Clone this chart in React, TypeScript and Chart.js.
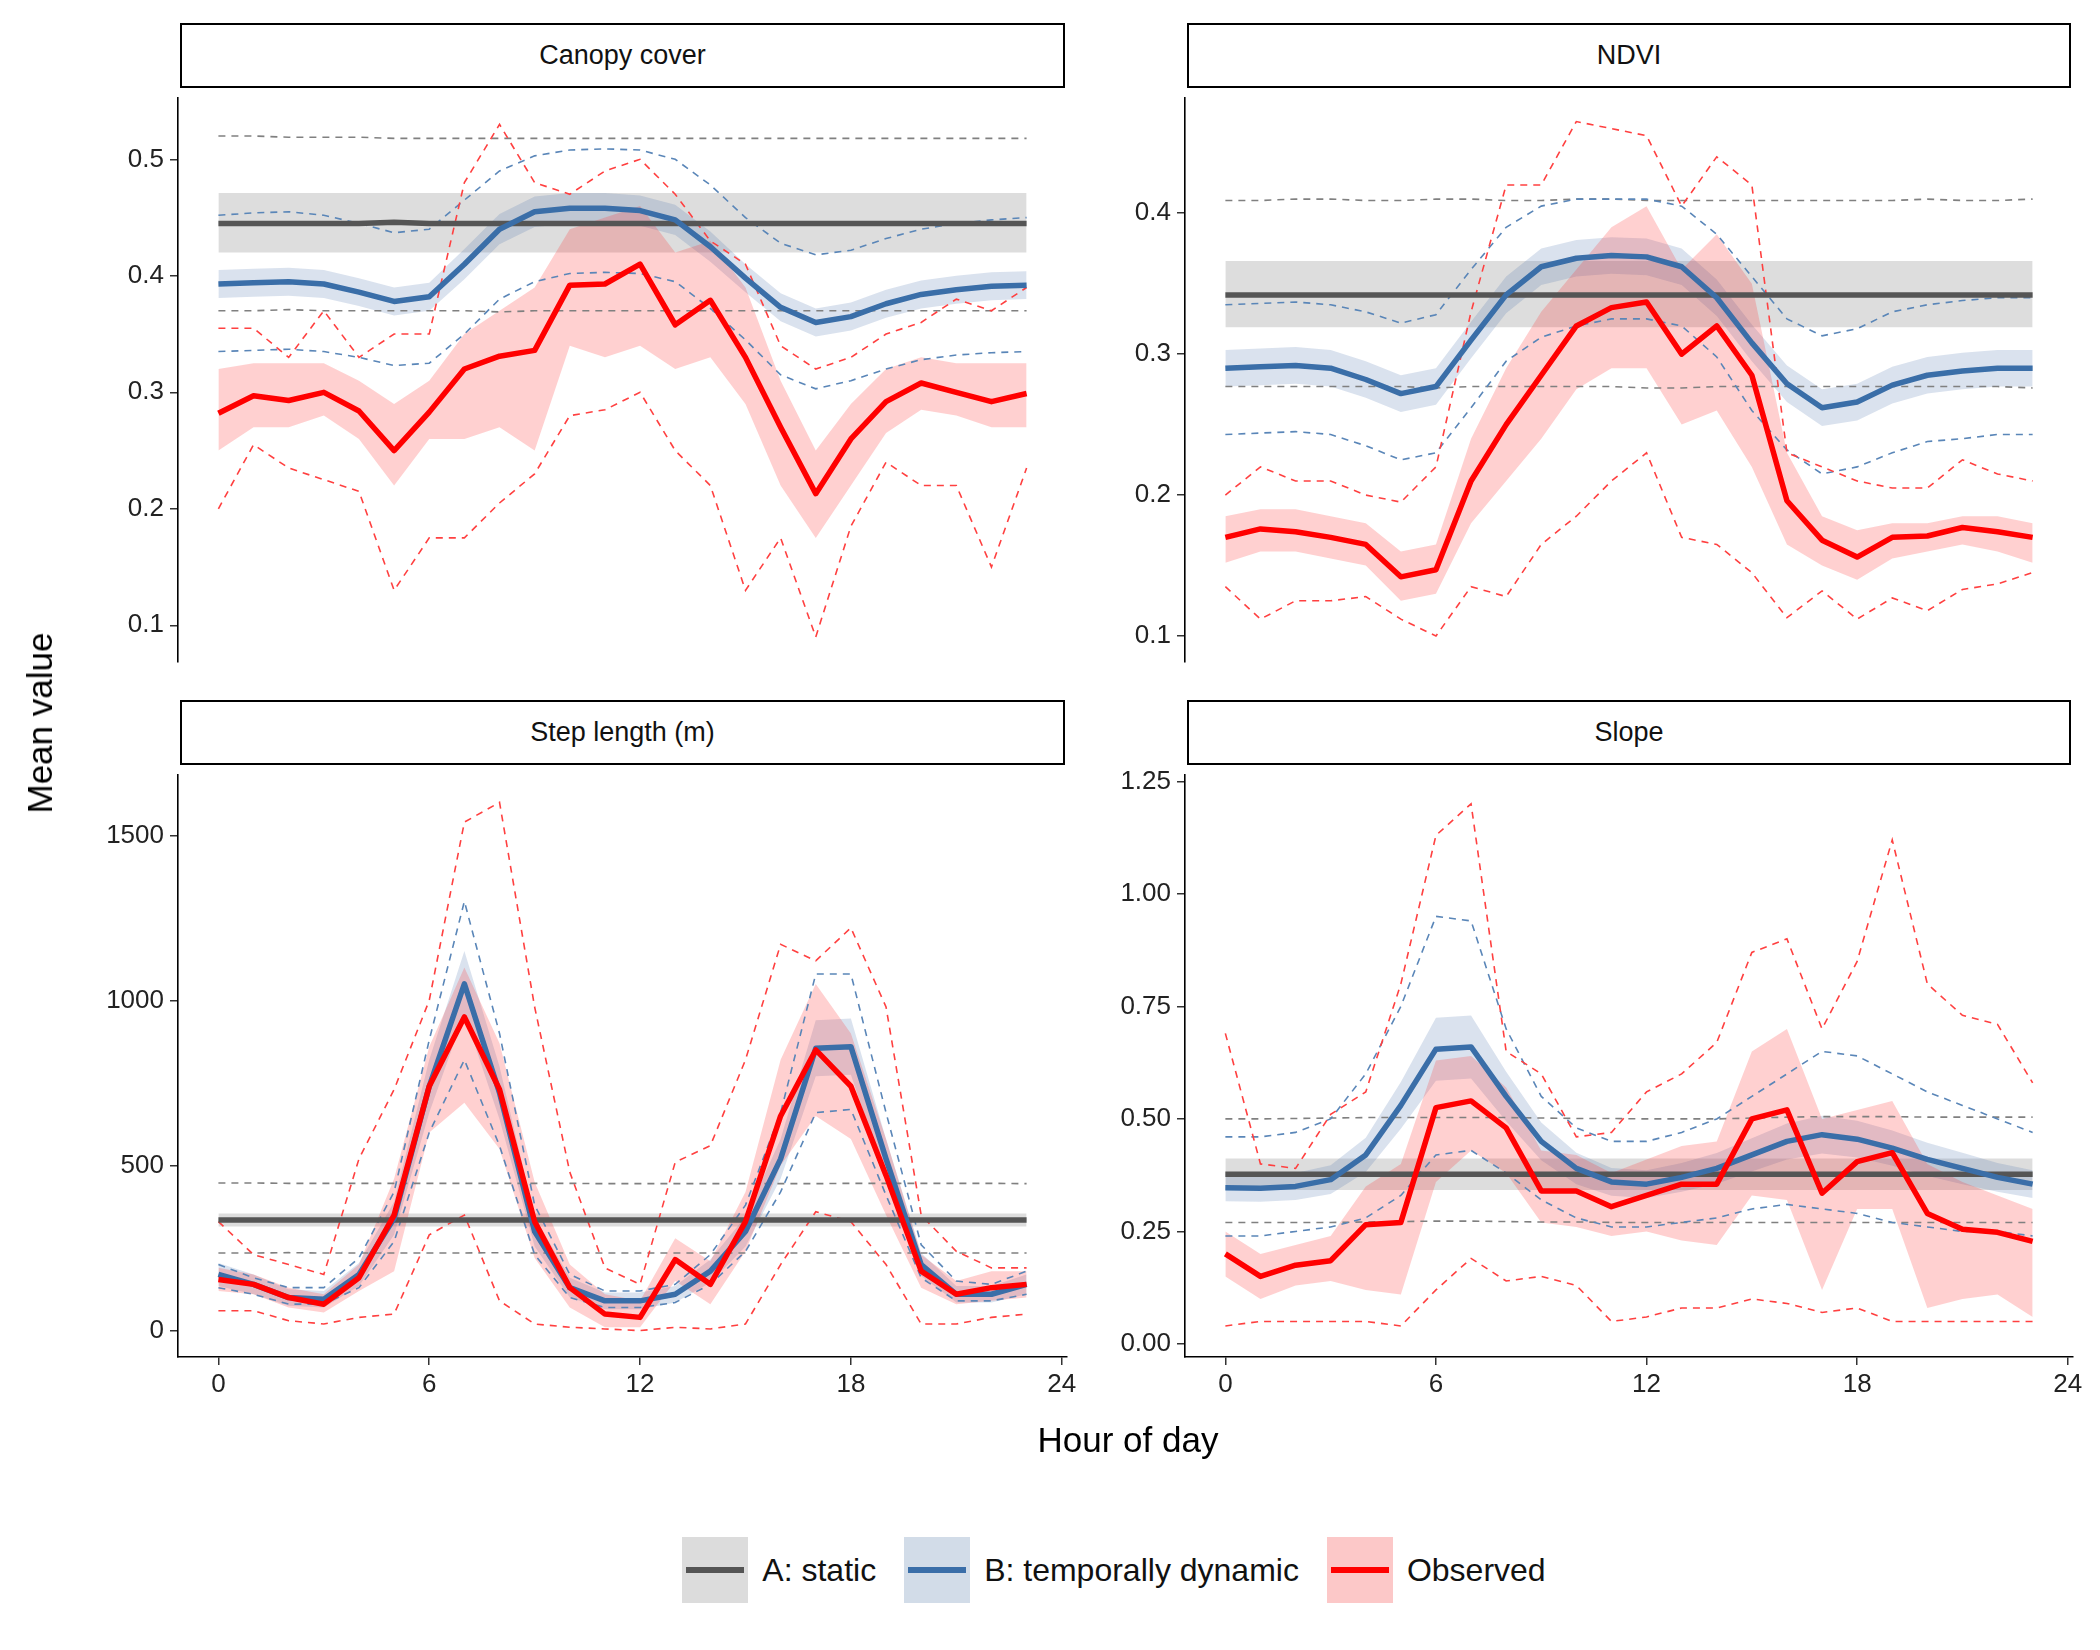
import React, { useEffect, useRef } from "react";
import { Chart, registerables } from "chart.js";
Chart.register(...registerables);

const hours = [0,1,2,3,4,5,6,7,8,9,10,11,12,13,14,15,16,17,18,19,20,21,22,23];
const xTicks = [0, 6, 12, 18, 24];

// Canopy cover
const canA = [0.445,0.445,0.445,0.445,0.445,0.446,0.445,0.445,0.445,0.445,0.445,0.445,0.445,0.445,0.445,0.445,0.445,0.445,0.445,0.445,0.445,0.445,0.445,0.445];
const canAlo = [0.42,0.42,0.42,0.42,0.42,0.42,0.42,0.42,0.42,0.42,0.42,0.42,0.42,0.42,0.42,0.42,0.42,0.42,0.42,0.42,0.42,0.42,0.42,0.42];
const canAhi = [0.471,0.471,0.471,0.471,0.471,0.471,0.471,0.471,0.471,0.471,0.471,0.471,0.471,0.471,0.471,0.471,0.471,0.471,0.471,0.471,0.471,0.471,0.471,0.471];
const canAdlo = [0.37,0.37,0.371,0.37,0.37,0.37,0.37,0.37,0.369,0.37,0.37,0.37,0.37,0.37,0.37,0.37,0.37,0.37,0.37,0.37,0.37,0.37,0.37,0.37];
const canAdhi = [0.52,0.52,0.519,0.519,0.519,0.518,0.518,0.518,0.518,0.518,0.518,0.518,0.518,0.518,0.518,0.518,0.518,0.518,0.518,0.518,0.518,0.518,0.518,0.518];
const canB = [0.393,0.394,0.395,0.393,0.386,0.378,0.382,0.41,0.44,0.455,0.458,0.458,0.456,0.448,0.425,0.398,0.373,0.36,0.365,0.376,0.384,0.388,0.391,0.392];
const canBlo = [0.381,0.382,0.383,0.381,0.374,0.366,0.37,0.397,0.427,0.442,0.445,0.445,0.443,0.435,0.412,0.386,0.361,0.348,0.353,0.364,0.372,0.376,0.379,0.38];
const canBhi = [0.405,0.406,0.407,0.405,0.398,0.39,0.394,0.423,0.453,0.468,0.471,0.471,0.469,0.461,0.438,0.41,0.385,0.372,0.377,0.388,0.396,0.4,0.403,0.404];
const canBdhi = [0.452,0.454,0.455,0.452,0.445,0.437,0.44,0.465,0.49,0.503,0.508,0.509,0.508,0.5,0.478,0.45,0.428,0.418,0.422,0.432,0.44,0.445,0.448,0.45];
const canBdlo = [0.335,0.336,0.337,0.335,0.33,0.323,0.325,0.35,0.38,0.395,0.402,0.403,0.402,0.395,0.372,0.345,0.315,0.303,0.31,0.32,0.328,0.332,0.334,0.335];
const canO = [0.282,0.297,0.293,0.3,0.284,0.25,0.283,0.32,0.331,0.336,0.392,0.393,0.41,0.358,0.379,0.33,0.27,0.213,0.26,0.292,0.308,0.3,0.292,0.299];
const canOhi = [0.32,0.325,0.325,0.325,0.31,0.29,0.31,0.35,0.37,0.39,0.44,0.45,0.46,0.42,0.43,0.39,0.31,0.25,0.29,0.32,0.33,0.325,0.325,0.325];
const canOlo = [0.25,0.27,0.27,0.28,0.26,0.22,0.26,0.26,0.27,0.25,0.34,0.33,0.34,0.32,0.33,0.29,0.22,0.175,0.22,0.265,0.285,0.28,0.27,0.27];
const canOdhi = [0.355,0.355,0.33,0.37,0.33,0.35,0.35,0.48,0.53,0.48,0.47,0.49,0.5,0.47,0.43,0.41,0.34,0.32,0.33,0.35,0.36,0.38,0.37,0.39];
const canOdlo = [0.2,0.255,0.235,0.225,0.215,0.13,0.175,0.175,0.205,0.23,0.28,0.285,0.3,0.25,0.22,0.13,0.175,0.09,0.185,0.24,0.22,0.22,0.15,0.235];

// NDVI
const ndA = [0.342,0.342,0.342,0.342,0.342,0.342,0.342,0.342,0.342,0.342,0.342,0.342,0.342,0.342,0.342,0.342,0.342,0.342,0.342,0.342,0.342,0.342,0.342,0.342];
const ndAlo = [0.319,0.319,0.319,0.319,0.319,0.319,0.319,0.319,0.319,0.319,0.319,0.319,0.319,0.319,0.319,0.319,0.319,0.319,0.319,0.319,0.319,0.319,0.319,0.319];
const ndAhi = [0.366,0.366,0.366,0.366,0.366,0.366,0.366,0.366,0.366,0.366,0.366,0.366,0.366,0.366,0.366,0.366,0.366,0.366,0.366,0.366,0.366,0.366,0.366,0.366];
const ndAdlo = [0.277,0.277,0.277,0.277,0.277,0.277,0.276,0.277,0.277,0.277,0.277,0.277,0.276,0.276,0.277,0.277,0.277,0.277,0.277,0.277,0.277,0.277,0.277,0.276];
const ndAdhi = [0.409,0.409,0.41,0.41,0.409,0.409,0.41,0.41,0.409,0.409,0.41,0.41,0.409,0.409,0.409,0.409,0.409,0.409,0.409,0.409,0.41,0.409,0.409,0.41];
const ndB = [0.29,0.291,0.292,0.29,0.282,0.272,0.277,0.31,0.342,0.362,0.368,0.37,0.369,0.362,0.34,0.308,0.279,0.262,0.266,0.278,0.285,0.288,0.29,0.29];
const ndBlo = [0.277,0.278,0.279,0.277,0.269,0.259,0.264,0.297,0.329,0.349,0.355,0.357,0.356,0.349,0.327,0.295,0.266,0.249,0.253,0.265,0.272,0.275,0.277,0.277];
const ndBhi = [0.303,0.304,0.305,0.303,0.295,0.285,0.29,0.323,0.355,0.375,0.381,0.383,0.382,0.375,0.353,0.321,0.292,0.275,0.279,0.291,0.298,0.301,0.303,0.303];
const ndBdhi = [0.335,0.336,0.337,0.335,0.33,0.322,0.328,0.36,0.39,0.405,0.41,0.41,0.41,0.405,0.385,0.355,0.325,0.313,0.318,0.33,0.335,0.338,0.34,0.34];
const ndBdlo = [0.243,0.244,0.245,0.243,0.235,0.225,0.23,0.262,0.295,0.312,0.32,0.325,0.325,0.32,0.298,0.26,0.232,0.215,0.22,0.23,0.238,0.24,0.243,0.243];
const ndO = [0.17,0.176,0.174,0.17,0.165,0.142,0.147,0.21,0.25,0.285,0.32,0.333,0.337,0.3,0.32,0.285,0.196,0.168,0.156,0.17,0.171,0.177,0.174,0.17];
const ndOhi = [0.185,0.19,0.19,0.185,0.18,0.16,0.165,0.24,0.29,0.33,0.36,0.39,0.405,0.36,0.385,0.35,0.23,0.185,0.175,0.18,0.18,0.185,0.185,0.18];
const ndOlo = [0.152,0.16,0.16,0.155,0.15,0.125,0.13,0.18,0.21,0.24,0.275,0.29,0.29,0.25,0.26,0.22,0.165,0.15,0.14,0.155,0.16,0.165,0.16,0.152];
const ndOdhi = [0.2,0.22,0.21,0.21,0.2,0.195,0.22,0.33,0.42,0.42,0.465,0.46,0.455,0.405,0.44,0.42,0.23,0.22,0.21,0.205,0.205,0.225,0.215,0.21];
const ndOdlo = [0.135,0.112,0.125,0.125,0.128,0.112,0.1,0.135,0.128,0.165,0.185,0.21,0.23,0.17,0.165,0.145,0.113,0.132,0.112,0.127,0.118,0.133,0.137,0.145];

// Step length
const stA = [335,335,335,335,335,335,335,335,335,335,335,335,335,335,335,335,335,335,335,335,335,335,335,335];
const stAlo = [315,315,315,315,315,315,315,315,315,315,315,315,315,315,315,315,315,315,315,315,315,315,315,315];
const stAhi = [355,355,355,355,355,355,355,355,355,355,355,355,355,355,355,355,355,355,355,355,355,355,355,355];
const stAdlo = [235,235,236,235,235,235,235,235,236,235,235,235,235,235,235,235,235,235,235,235,235,235,235,235];
const stAdhi = [447,447,446,446,446,446,446,446,446,446,446,445,445,445,445,445,445,445,446,446,446,446,446,445];
const stB = [170,140,100,95,170,340,740,1050,720,300,130,90,90,110,180,300,520,855,860,520,200,110,110,140];
const stBlo = [135,110,75,70,135,290,660,960,640,255,100,65,65,85,145,255,460,770,775,460,165,85,85,110];
const stBhi = [205,170,125,120,205,390,820,1150,800,345,160,115,115,135,215,345,580,940,945,580,235,135,135,170];
const stBdhi = [200,160,130,130,220,420,880,1300,900,380,170,120,120,140,230,380,660,1080,1080,660,260,150,140,180];
const stBdlo = [130,110,80,80,130,270,600,820,560,230,100,70,70,85,140,240,420,660,670,410,160,90,90,110];
const stO = [155,140,100,80,160,350,740,950,730,330,130,50,40,215,140,330,650,850,740,470,180,110,130,140];
const stOhi = [190,170,130,110,200,460,860,1100,870,450,200,110,90,280,210,420,820,1050,900,580,230,150,180,180];
const stOlo = [120,110,70,55,120,180,600,690,550,220,70,10,10,150,80,240,500,650,580,350,130,80,90,100];
const stOdhi = [330,230,200,170,520,730,1000,1540,1600,980,480,190,140,510,560,820,1170,1120,1220,980,350,240,190,190];
const stOdlo = [60,60,30,20,40,50,290,350,90,20,10,5,0,10,5,20,200,360,330,200,20,20,40,50];

// Slope
const slA = [0.377,0.377,0.377,0.377,0.377,0.377,0.377,0.377,0.377,0.377,0.377,0.377,0.377,0.377,0.377,0.377,0.377,0.377,0.377,0.377,0.377,0.377,0.377,0.377];
const slAlo = [0.342,0.342,0.342,0.342,0.342,0.342,0.342,0.342,0.342,0.342,0.342,0.342,0.342,0.342,0.342,0.342,0.342,0.342,0.342,0.342,0.342,0.342,0.342,0.342];
const slAhi = [0.412,0.412,0.412,0.412,0.412,0.412,0.412,0.412,0.412,0.412,0.412,0.412,0.412,0.412,0.412,0.412,0.412,0.412,0.412,0.412,0.412,0.412,0.412,0.412];
const slAdlo = [0.27,0.27,0.27,0.27,0.271,0.272,0.273,0.273,0.272,0.271,0.271,0.27,0.27,0.27,0.27,0.27,0.27,0.27,0.27,0.27,0.27,0.27,0.27,0.27];
const slAdhi = [0.5,0.5,0.501,0.502,0.503,0.503,0.503,0.503,0.503,0.502,0.501,0.501,0.5,0.5,0.5,0.502,0.504,0.505,0.505,0.505,0.504,0.504,0.504,0.504];
const slB = [0.347,0.346,0.35,0.365,0.42,0.53,0.655,0.66,0.55,0.45,0.39,0.36,0.355,0.37,0.39,0.42,0.45,0.465,0.455,0.435,0.41,0.39,0.37,0.355];
const slBlo = [0.317,0.316,0.32,0.333,0.382,0.478,0.585,0.59,0.495,0.408,0.355,0.329,0.324,0.338,0.356,0.383,0.41,0.423,0.414,0.396,0.373,0.355,0.338,0.324];
const slBhi = [0.377,0.376,0.38,0.397,0.458,0.582,0.725,0.73,0.605,0.492,0.425,0.391,0.386,0.402,0.424,0.457,0.49,0.507,0.496,0.474,0.447,0.425,0.402,0.386];
const slBdhi = [0.46,0.46,0.47,0.5,0.6,0.75,0.95,0.94,0.7,0.55,0.48,0.45,0.45,0.47,0.5,0.55,0.6,0.65,0.64,0.6,0.56,0.53,0.5,0.47];
const slBdlo = [0.24,0.24,0.25,0.26,0.28,0.33,0.42,0.43,0.38,0.32,0.28,0.26,0.26,0.27,0.28,0.3,0.31,0.3,0.29,0.27,0.26,0.25,0.25,0.24];
const slO = [0.2,0.15,0.175,0.185,0.265,0.27,0.525,0.54,0.48,0.34,0.34,0.305,0.33,0.355,0.355,0.5,0.52,0.335,0.405,0.425,0.29,0.255,0.248,0.228];
const slOhi = [0.25,0.2,0.22,0.24,0.35,0.4,0.63,0.64,0.57,0.43,0.42,0.38,0.41,0.44,0.45,0.65,0.7,0.5,0.52,0.54,0.4,0.36,0.33,0.3];
const slOlo = [0.15,0.1,0.13,0.14,0.12,0.11,0.36,0.43,0.38,0.27,0.26,0.24,0.25,0.23,0.22,0.33,0.32,0.12,0.3,0.3,0.08,0.1,0.11,0.06];
const slOdhi = [0.69,0.4,0.39,0.51,0.56,0.8,1.13,1.2,0.65,0.6,0.46,0.47,0.56,0.6,0.67,0.87,0.9,0.7,0.85,1.12,0.8,0.73,0.71,0.58];
const slOdlo = [0.04,0.05,0.05,0.05,0.05,0.04,0.12,0.19,0.14,0.15,0.13,0.05,0.06,0.08,0.08,0.1,0.09,0.07,0.08,0.05,0.05,0.05,0.05,0.05];

const canTicks = [0.1, 0.2, 0.3, 0.4, 0.5];
const canLabels = ["0.1", "0.2", "0.3", "0.4", "0.5"];
const ndTicks = [0.1, 0.2, 0.3, 0.4];
const ndLabels = ["0.1", "0.2", "0.3", "0.4"];
const stTicks = [0, 500, 1000, 1500];
const stLabels = ["0", "500", "1000", "1500"];
const slTicks = [0, 0.25, 0.5, 0.75, 1, 1.25];
const slLabels = ["0.00", "0.25", "0.50", "0.75", "1.00", "1.25"];

const FONT = "'Liberation Sans', Arial, sans-serif";
const GREY = "#555555", BLUE = "#3a6ea8", RED = "#ff0000";
const GREY_BAND = "rgba(150,150,150,0.32)", BLUE_BAND = "rgba(70,110,170,0.2)", RED_BAND = "rgba(255,40,40,0.22)";

const panels = [
  { title: "Canopy cover", left: 178, top: 90, w: 889, h: 589, yMin: 0.069, yMax: 0.553, ticks: canTicks, labels: canLabels, xAxis: false,
    A: [canA, canAlo, canAhi, canAdlo, canAdhi], B: [canB, canBlo, canBhi, canBdlo, canBdhi], O: [canO, canOlo, canOhi, canOdlo, canOdhi] },
  { title: "NDVI", left: 1185, top: 90, w: 888, h: 589, yMin: 0.082, yMax: 0.482, ticks: ndTicks, labels: ndLabels, xAxis: false,
    A: [ndA, ndAlo, ndAhi, ndAdlo, ndAdhi], B: [ndB, ndBlo, ndBhi, ndBdlo, ndBdhi], O: [ndO, ndOlo, ndOhi, ndOdlo, ndOdhi] },
  { title: "Step length (m)", left: 178, top: 767, w: 889, h: 590, yMin: -80, yMax: 1684, ticks: stTicks, labels: stLabels, xAxis: true,
    A: [stA, stAlo, stAhi, stAdlo, stAdhi], B: [stB, stBlo, stBhi, stBdlo, stBdhi], O: [stO, stOlo, stOhi, stOdlo, stOdhi] },
  { title: "Slope", left: 1185, top: 767, w: 888, h: 590, yMin: -0.029, yMax: 1.265, ticks: slTicks, labels: slLabels, xAxis: true,
    A: [slA, slAlo, slAhi, slAdlo, slAdhi], B: [slB, slBlo, slBhi, slBdlo, slBdhi], O: [slO, slOlo, slOhi, slOdlo, slOdhi] },
];

const YW = 120, PT = 14, PR = 16, XH = 70;

function pts(arr: number[]) { return arr.map((v, i) => ({ x: hours[i], y: v })); }

function buildDatasets(p: any) {
  const groups = [
    { s: p.A, line: GREY, band: GREY_BAND, dash: "#808080" },
    { s: p.B, line: BLUE, band: BLUE_BAND, dash: "#5a86b8" },
    { s: p.O, line: RED, band: RED_BAND, dash: "#ff4040" },
  ];
  const ds: any[] = [];
  let ord = 100;
  groups.forEach((g) => {
    ds.push({ data: pts(g.s[1]), borderWidth: 0, pointRadius: 0, fill: false, order: ord-- , borderColor: "transparent" });
    ds.push({ data: pts(g.s[2]), borderWidth: 0, pointRadius: 0, fill: "-1", backgroundColor: g.band, order: ord--, borderColor: "transparent" });
  });
  groups.forEach((g) => {
    ds.push({ data: pts(g.s[3]), borderWidth: 1.6, borderDash: [7, 6], borderColor: g.dash, pointRadius: 0, fill: false, order: ord-- });
    ds.push({ data: pts(g.s[4]), borderWidth: 1.6, borderDash: [7, 6], borderColor: g.dash, pointRadius: 0, fill: false, order: ord-- });
  });
  groups.forEach((g) => {
    ds.push({ data: pts(g.s[0]), borderWidth: 5.5, borderColor: g.line, pointRadius: 0, fill: false, order: ord--, borderCapStyle: "butt", borderJoinStyle: "round" });
  });
  return ds;
}

function Panel({ p }: { p: any }) {
  const ref = useRef<HTMLCanvasElement>(null);
  const cw = p.w + YW + PR;
  const ch = p.h + PT + (p.xAxis ? XH : 4);
  useEffect(() => {
    const chart = new Chart(ref.current as HTMLCanvasElement, {
      type: "line",
      data: { datasets: buildDatasets(p) },
      options: {
        animation: false, responsive: false, devicePixelRatio: 1,
        layout: { padding: { top: PT, right: PR, bottom: p.xAxis ? 0 : 4, left: 0 } },
        plugins: { legend: { display: false }, tooltip: { enabled: false } },
        scales: {
          x: {
            type: "linear", min: -1.15, max: 24.15, display: p.xAxis,
            afterBuildTicks: (s: any) => { s.ticks = xTicks.map((v) => ({ value: v })); },
            afterFit: (s: any) => { s.height = p.xAxis ? XH : 0; },
            grid: { drawOnChartArea: false, drawTicks: true, tickLength: 8, color: "#333", lineWidth: 1.5 },
            border: { display: true, color: "#000", width: 1.6 },
            ticks: { font: { family: FONT, size: 26 }, color: "#222", padding: 4, maxRotation: 0 },
          },
          y: {
            type: "linear", min: p.yMin, max: p.yMax,
            afterBuildTicks: (s: any) => { s.ticks = p.ticks.map((v: number) => ({ value: v })); },
            afterFit: (s: any) => { s.width = YW; },
            grid: { drawOnChartArea: false, drawTicks: true, tickLength: 8, color: "#333", lineWidth: 1.5 },
            border: { display: true, color: "#000", width: 1.6 },
            ticks: { font: { family: FONT, size: 26 }, color: "#222", padding: 6,
              callback: (v: any) => { const i = p.ticks.indexOf(v); return i >= 0 ? p.labels[i] : ""; } },
          },
        },
      } as any,
    });
    return () => chart.destroy();
  }, []);
  return (
    <>
      <div style={{ position: "absolute", left: p.left + 2, top: p.top - 67, width: p.w - 4, height: 65,
        border: "2.5px solid #000", boxSizing: "border-box", display: "flex", alignItems: "center", justifyContent: "center",
        fontFamily: FONT, fontSize: 27, color: "#111", background: "#fff" }}>{p.title}</div>
      <canvas ref={ref} width={cw} height={ch}
        style={{ position: "absolute", left: p.left - YW, top: p.top - PT, width: cw, height: ch }} />
    </>
  );
}

function LegendKey({ band, line, label }: { band: string; line: string; label: string }) {
  return (
    <div style={{ display: "flex", alignItems: "center", marginRight: 28 }}>
      <div style={{ width: 66, height: 66, background: band, position: "relative", marginRight: 14 }}>
        <div style={{ position: "absolute", left: 4, right: 4, top: 30, height: 6, background: line }} />
      </div>
      <span style={{ fontFamily: FONT, fontSize: 32, color: "#111" }}>{label}</span>
    </div>
  );
}

export default function App() {
  return (
    <div style={{ position: "relative", width: 2100, height: 1650, background: "#fff", margin: -8 }}>
      {panels.map((p) => <Panel key={p.title} p={p} />)}
      <div style={{ position: "absolute", left: 40, top: 723, transform: "translate(-50%,-50%) rotate(-90deg)",
        fontFamily: FONT, fontSize: 35, color: "#000", whiteSpace: "nowrap" }}>Mean value</div>
      <div style={{ position: "absolute", left: 1128, top: 1440, transform: "translate(-50%,-50%)",
        fontFamily: FONT, fontSize: 35, color: "#000", whiteSpace: "nowrap" }}>Hour of day</div>
      <div style={{ position: "absolute", left: 0, width: 2256, top: 1570, transform: "translateY(-50%)", display: "flex", justifyContent: "center" }}>
        <LegendKey band="#dcdcdc" line={GREY} label="A: static" />
        <LegendKey band="#d2dce8" line={BLUE} label="B: temporally dynamic" />
        <LegendKey band="#fcc8c8" line={RED} label="Observed" />
      </div>
    </div>
  );
}
